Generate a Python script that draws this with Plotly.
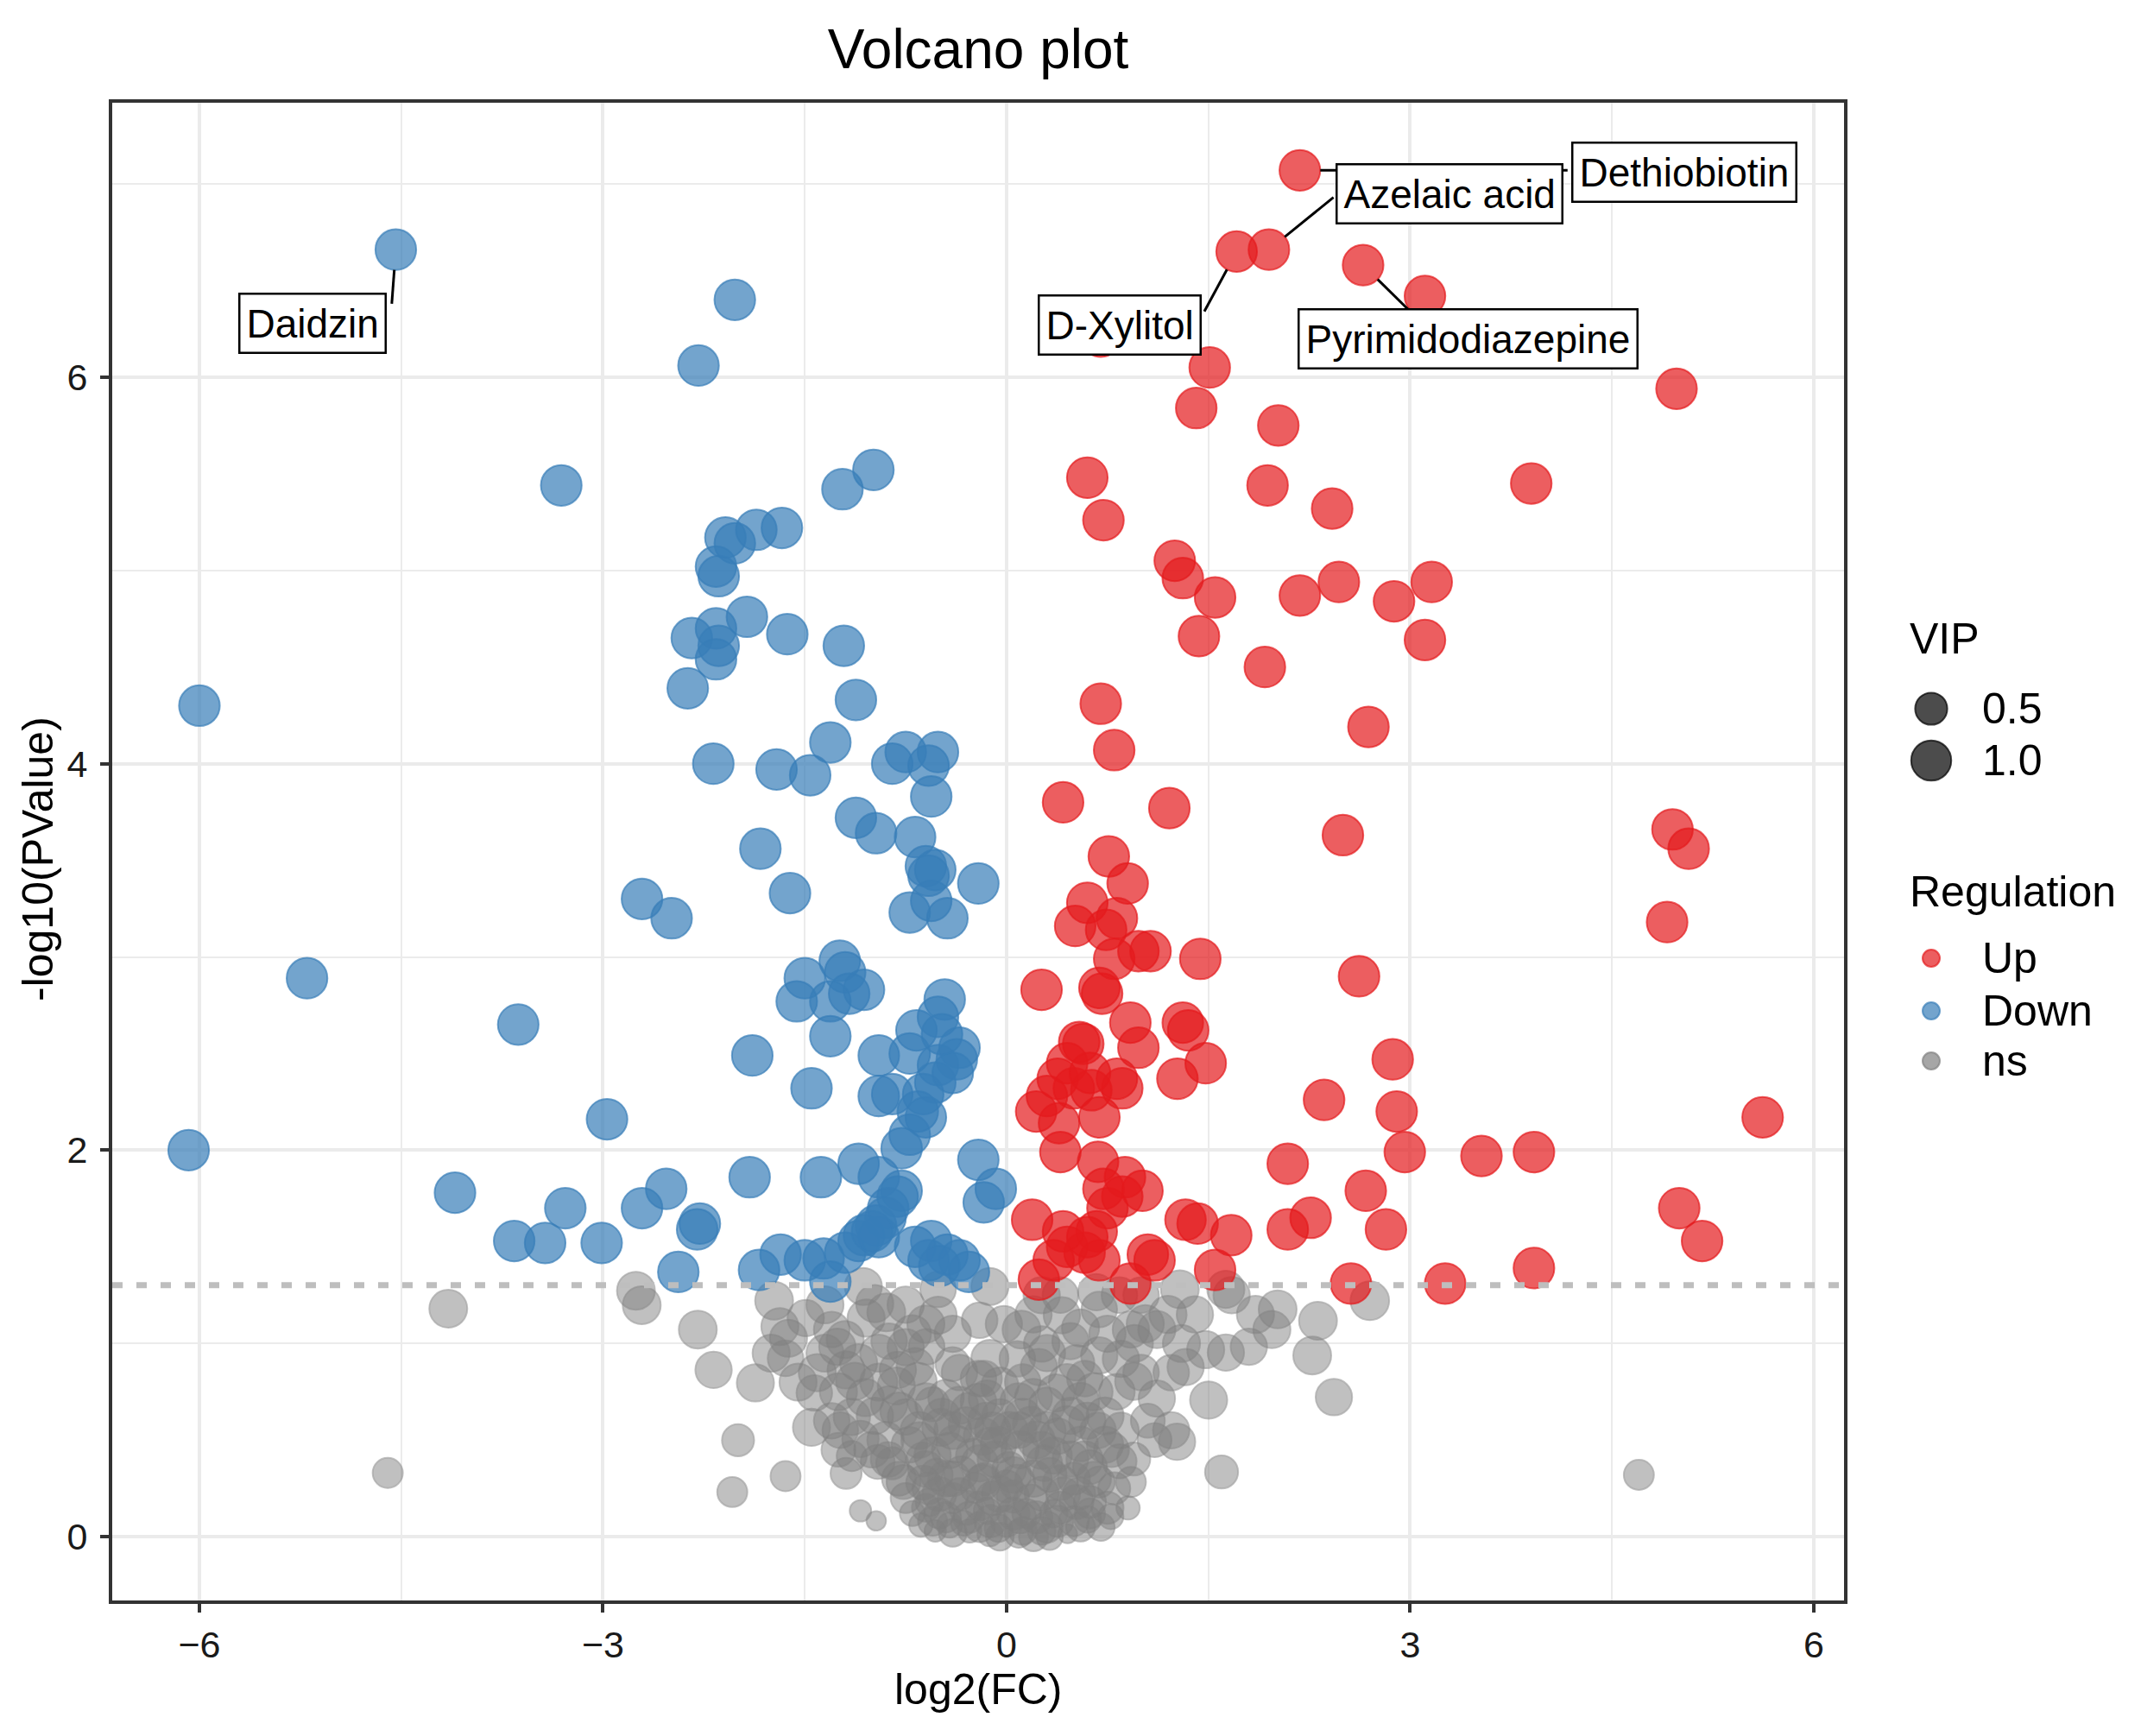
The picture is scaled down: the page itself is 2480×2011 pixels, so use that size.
"""Volcano plot: log2(FC) vs -log10(PValue), size = VIP, colour = regulation"""
import numpy as np
import plotly.graph_objects as go

# colours (ggplot-style palette with alpha 0.7)
COLOR_UP = "rgba(228,26,28,0.7)"
COLOR_DOWN = "rgba(55,126,184,0.7)"
COLOR_NS = "rgba(128,128,128,0.7)"
COLOR_VIP_KEY = "rgba(0,0,0,0.7)"
COLOR_GRID = "#EBEBEB"
COLOR_AXIS = "#333333"
COLOR_CUTOFF = "#BEBEBE"
FONT = "Liberation Sans, Arial, Helvetica, sans-serif"

# page size and plot panel position (pixels); the page body has an 8px margin
W, H = 2480, 2011
OFF = 8
PLOT_L, PLOT_R, PLOT_T, PLOT_B = 130, 2136, 119, 1854
X_RANGE = [-6.648, 6.225]
Y_RANGE = [-0.33, 7.42]

P_CUTOFF = -np.log10(0.05)
VIP_MAX = 1.1
SIG_VIP = 1.05  # all Up/Down metabolites have VIP > 1

# Down-regulated metabolites
down_fc = [
    -4.54, -2.02, -2.29, -3.31, -6.00, -5.20, -3.63, -6.08, -4.10, -3.66,
    -3.43, -3.28, -3.01, -2.97, -2.71, -2.53, -2.28, -2.30, -2.44, -2.71,
    -2.49, -1.22, -0.99, -2.09, -2.02, -1.86, -1.67, -2.16, -2.14, -2.34,
    -2.16, -1.93, -2.14, -2.16, -1.63, -1.21, -2.37, -1.12, -2.18, -1.31,
    -1.71, -1.46, -0.85, -0.75, -0.51, -0.58, -0.56, -1.12, -0.97, -0.68,
    -0.60, -0.53, -0.21, -1.83, -1.61, -0.72, -0.56, -0.44, -0.58, -1.24,
    -1.20, -1.06, -1.17, -1.31, -1.50, -1.56, -1.31, -1.89, -1.45, -0.46,
    -0.51, -0.67, -0.35, -0.37, -0.51, -0.72, -0.95, -0.53, -0.62, -0.85,
    -0.95, -0.60, -0.72, -0.78, -1.10, -0.95, -0.78, -0.81, -0.90, -0.97,
    -1.06, -1.10, -0.95, -1.20, -1.36, -1.50, -1.68, -1.84, -1.31, -0.56,
    -0.44, -0.35, -0.28, -0.58, -0.21, -0.08, -0.17, -1.91, -1.38, -0.48,
    -0.40, -0.66, -0.88, -1.00, -0.68, -0.50,
]
down_logp = [
    6.66, 6.40, 6.06, 5.44, 4.30, 2.89, 2.65, 2.00, 1.78, 1.53,
    1.52, 1.70, 1.52, 2.16, 1.70, 1.80, 1.62, 1.59, 1.37, 3.30,
    3.20, 5.42, 5.52, 5.17, 5.14, 5.21, 5.22, 5.02, 4.97, 4.65,
    4.70, 4.76, 4.61, 4.54, 4.67, 4.61, 4.39, 4.33, 4.00, 4.11,
    3.97, 3.94, 4.00, 4.06, 4.06, 3.99, 3.83, 3.72, 3.64, 3.62,
    3.47, 3.45, 3.38, 3.56, 3.33, 3.23, 3.29, 3.20, 3.42, 2.98,
    2.92, 2.83, 2.81, 2.77, 2.89, 2.77, 2.59, 2.49, 2.32, 2.78,
    2.69, 2.62, 2.53, 2.47, 2.44, 2.50, 2.49, 2.35, 2.29, 2.29,
    2.28, 2.17, 2.08, 2.01, 1.93, 1.86, 1.79, 1.76, 1.65, 1.61,
    1.56, 1.53, 1.55, 1.47, 1.44, 1.43, 1.46, 1.38, 1.32, 1.53,
    1.46, 1.43, 1.37, 1.43, 1.95, 1.80, 1.73, 1.86, 1.86, 2.60,
    2.40, 2.20, 1.70, 1.58, 1.50, 1.40,
]

# Up-regulated metabolites
up_fc = [
    2.18, 1.95, 1.71, 2.65, 3.11, 0.70, 1.51, 1.41, 2.02, 4.98,
    0.60, 0.72, 1.94, 2.42, 3.90, 1.25, 1.31, 1.55, 2.18, 2.47,
    2.88, 3.16, 1.43, 3.11, 1.92, 0.70, 0.80, 2.69, 0.42, 1.21,
    2.50, 0.76, 0.90, 0.60, 0.51, 0.82, 0.74, 0.80, 0.98, 1.07,
    1.44, 2.62, 0.26, 0.69, 0.71, 4.95, 5.07, 4.91, 5.62, 3.53,
    3.92, 5.00, 5.17, 3.92, 3.26, 0.92, 1.31, 1.35, 0.57, 0.54,
    0.98, 1.48, 1.27, 0.38, 0.50, 0.86, 0.82, 0.63, 0.69, 0.22,
    0.39, 0.40, 2.36, 2.87, 2.90, 2.96, 2.09, 0.68, 0.88, 1.01,
    0.86, 0.75, 0.19, 1.33, 1.42, 1.67, 2.67, 2.26, 2.09, 2.82,
    0.67, 0.45, 0.58, 0.69, 0.35, 1.05, 1.10, 1.55, 0.24, 0.92,
    2.56, 0.45, 0.62, 0.30, 0.72, 0.60, 0.42,
]
up_logp = [
    7.07, 6.66, 6.65, 6.58, 6.42, 6.21, 6.05, 5.84, 5.75, 5.94,
    5.48, 5.26, 5.44, 5.32, 5.45, 5.05, 4.96, 4.86, 4.87, 4.94,
    4.84, 4.94, 4.66, 4.64, 4.50, 4.31, 4.07, 4.19, 3.80, 3.77,
    3.63, 3.52, 3.38, 3.28, 3.16, 3.20, 3.14, 2.99, 3.03, 3.03,
    2.99, 2.90, 2.83, 2.84, 2.81, 3.66, 3.56, 3.18, 2.17, 1.97,
    1.99, 1.70, 1.53, 1.39, 1.31, 2.66, 2.66, 2.62, 2.55, 2.56,
    2.53, 2.45, 2.37, 2.37, 2.32, 2.32, 2.37, 2.31, 2.17, 2.20,
    2.14, 1.99, 2.26, 2.47, 2.20, 1.99, 1.93, 1.94, 1.86, 1.79,
    1.76, 1.70, 1.64, 1.64, 1.62, 1.56, 1.79, 1.65, 1.59, 1.59,
    1.58, 1.50, 1.47, 1.43, 1.43, 1.46, 1.43, 1.38, 1.33, 1.31,
    1.31, 2.45, 2.40, 2.28, 1.80, 1.55, 1.58,
]

# not significant metabolites (with VIP)
ns_fc = [
    -2.755, -2.712, -2.295, -2.178, -1.867, -1.996, -2.039, -1.643, -1.086, -0.969,
    -1.728, -1.685, -1.621, -1.643, -1.493, -1.300, -1.258, -1.407, -1.429, -1.193,
    -1.129, -1.065, -1.044, -0.894, -0.873, -0.594, -0.509, -0.509, -0.124, -0.402,
    -0.209, -0.209, -0.808, -0.658, -0.873, -0.979, -1.450, -1.236, -1.086, -0.958,
    -1.193, -1.151, -0.766, -0.723, -0.488, -0.423, -0.338, -0.573, -0.637, -0.530,
    -0.423, -0.231, -0.124, -0.274, -0.124, -0.145, -0.552, -0.980,
    -0.124, 0.111, 0.261, 0.411, 0.667, 0.689, 0.839, 1.288, 1.630, 1.673,
    2.015, 2.315, 2.700, 2.272, 1.972, 1.801, 1.630, 1.480, 1.331, 1.224,
    1.117, 1.031, 0.924, -0.167, -0.146, 0.240, 0.261, 0.475, 0.689, 0.582,
    0.945, 1.117, 1.502, 2.433, 1.224, 1.267, 1.598, 0.090, 0.368, 0.475,
    0.732, 0.090, -0.060, 0.261, 0.475, 0.732, 0.945, 0.924, 0.903, 0.775,
    0.603, 0.454, 0.261, 0.090, -0.060, 0.047, 0.261, 0.539, 0.689, -0.167,
    -0.103,
    -4.15, -4.60, 4.70, 0.08, 0.84, -0.58, -0.32,
    -0.75, -0.62, -0.45, -0.30, -0.35, -0.25, -0.05, 0.02, 0.18, 0.32,
    0.38, 0.55, 0.62, 0.15, 0.35, -0.40, -0.20, 0.00, -0.70, 0.50,
    -0.52, 0.12, -0.02, 0.30, -0.85, 0.82, 1.05, -1.30, -0.75, 0.52,
    -0.95, -0.70, -0.40, -0.20, 0.20, 0.55, 0.75, 1.20,
    -1.35, -1.05, -0.82, -0.60, -0.35, -0.05, 0.20, 0.45, 0.65, 0.85, 1.00,
    -1.25, -0.90, -0.65, -0.40, -0.15, 0.10, 0.30, 0.60, 0.85, 1.10,
    -0.80, -0.60, -0.45, -0.20, 0.05, 0.20, 0.42, 0.62, 0.80,
    -0.75, -0.50, -0.35, -0.10, 0.10, 0.30, 0.50, 0.70, -0.20, 0.00,
    -0.40, 0.20, 0.40, -0.60,
    -1.55, -1.75, -1.35, -0.75, 0.40, 1.40, 1.85, 1.00,
    -0.65, -0.55, -0.48, -0.38, -0.28, -0.18, -0.08, 0.02, 0.12, 0.22,
    0.35, 0.45, 0.58, 0.68, 0.78,
    -0.62, -0.50, -0.40, -0.30, -0.18, -0.05, 0.08, 0.18, 0.28, 0.40,
    0.52, 0.65, 0.75,
    -0.55, -0.45, -0.28, -0.12, 0.05, 0.22, 0.38, 0.55, 0.62, -0.05,
    0.12, 0.32,
    -1.25, -1.10, -0.95, -0.80, -1.15, -0.68, -1.00, -0.88,
    -1.20, -0.60, 0.30, 0.55, 0.95, 1.30,
]
ns_logp = [
    1.273, 1.198, 1.072, 0.863, 0.796, 0.499, 0.231, 0.313, 0.134, 0.082,
    1.221, 1.087, 1.027, 0.923, 1.131, 1.072, 0.983, 0.849, 0.744, 0.863,
    0.804, 1.295, 1.131, 1.161, 1.012, 0.983, 1.146, 1.280, 0.923, 0.893,
    0.818, 0.700, 0.863, 0.804, 0.685, 0.625, 0.566, 0.551, 0.506, 0.387,
    0.328, 0.417, 0.283, 0.476, 0.566, 0.447, 0.328, 0.179, 0.060, 0.030,
    0.060, 0.253, 0.476, 0.030, 0.015, 0.134, 0.685, 1.206,
    1.295, 1.072, 1.250, 1.146, 1.265, 1.176, 1.250, 1.280, 1.280, 1.250,
    1.176, 1.117, 1.221, 0.938, 1.072, 0.983, 0.953, 0.968, 0.878, 0.849,
    1.072, 1.102, 1.072, 0.818, 0.715, 0.878, 0.997, 1.012, 0.938, 0.818,
    0.804, 0.715, 0.707, 0.722, 0.551, 0.491, 0.335, 0.700, 0.744, 0.625,
    0.625, 0.551, 0.476, 0.447, 0.402, 0.476, 0.402, 0.283, 0.149, 0.104,
    0.089, 0.015, 0.030, 0.015, 0.045, 0.208, 0.223, 0.223, 0.283, 0.298,
    0.551,
    1.18, 0.33, 0.32, 0.92, 0.39, 0.25, 0.07,
    0.62, 0.40, 0.72, 0.58, 0.85, 0.42, 0.62, 0.35, 0.58, 0.32,
    0.52, 0.48, 0.36, 0.12, 0.12, 0.20, 0.16, 0.26, 0.12, 0.30,
    0.32, 0.80, 1.10, 0.68, 0.38, 0.75, 0.60, 0.60, 0.98, 0.90,
    0.95, 1.05, 1.05, 1.12, 1.15, 1.08, 1.05, 1.15,
    0.95, 0.72, 0.78, 0.70, 0.68, 0.78, 0.72, 0.80, 0.75, 0.92, 0.85,
    0.45, 0.50, 0.55, 0.55, 0.60, 0.45, 0.55, 0.60, 0.55, 0.50,
    0.30, 0.35, 0.30, 0.38, 0.32, 0.30, 0.22, 0.18, 0.25,
    0.20, 0.12, 0.22, 0.20, 0.10, 0.05, 0.08, 0.05, 0.05, 0.08,
    0.02, 0.00, 0.15, 0.15,
    0.80, 0.95, 1.20, 1.20, 1.25, 1.15, 1.15, 1.25,
    0.50, 0.42, 0.62, 0.48, 0.65, 0.52, 0.40, 0.55, 0.62, 0.50,
    0.42, 0.58, 0.40, 0.55, 0.45,
    0.28, 0.22, 0.30, 0.15, 0.28, 0.22, 0.28, 0.18, 0.38, 0.28,
    0.18, 0.30, 0.15,
    0.08, 0.10, 0.10, 0.08, 0.12, 0.10, 0.08, 0.05, 0.12, 0.00,
    0.03, 0.00,
    0.75, 0.90, 0.80, 0.65, 0.62, 0.88, 0.45, 0.40,
    1.02, 1.10, 0.95, 0.70, 1.00, 1.00,
]
ns_vip = [
    0.85, 0.85, 0.85, 0.75, 0.80, 0.50, 0.40, 0.40, 0.10, 0.06,
    0.85, 0.80, 0.80, 0.70, 0.75, 0.70, 0.75, 0.80, 0.70, 0.80,
    0.80, 0.80, 0.80, 0.85, 0.70, 0.70, 0.80, 0.70, 0.80, 0.60,
    0.70, 0.70, 0.75, 0.80, 0.75, 0.75, 0.80, 0.70, 0.75, 0.60,
    0.45, 0.40, 0.60, 0.70, 0.80, 0.70, 0.60, 0.30, 0.15, 0.10,
    0.20, 0.40, 0.60, 0.15, 0.20, 0.25, 0.60, 0.80,
    0.80, 0.85, 0.75, 0.75, 0.75, 0.70, 0.70, 0.85, 0.80, 0.75,
    0.85, 0.85, 0.90, 0.85, 0.80, 0.75, 0.75, 0.80, 0.75, 0.70,
    0.80, 0.80, 0.75, 0.70, 0.75, 0.75, 0.70, 0.75, 0.75, 0.70,
    0.80, 0.75, 0.80, 0.75, 0.75, 0.75, 0.55, 0.75, 0.80, 0.75,
    0.80, 0.70, 0.70, 0.80, 0.70, 0.75, 0.55, 0.40, 0.15, 0.20,
    0.25, 0.05, 0.30, 0.30, 0.30, 0.50, 0.60, 0.50, 0.45, 0.50,
    0.70,
    0.85, 0.40, 0.40, 0.70, 0.60, 0.50, 0.20,
    0.70, 0.60, 0.70, 0.65, 0.70, 0.60, 0.70, 0.60, 0.70, 0.60,
    0.70, 0.65, 0.60, 0.35, 0.30, 0.40, 0.35, 0.50, 0.20, 0.50,
    0.50, 0.70, 0.75, 0.70, 0.50, 0.70, 0.60, 0.70, 0.75, 0.70,
    0.80, 0.80, 0.75, 0.70, 0.75, 0.80, 0.75, 0.80,
    0.80, 0.80, 0.80, 0.75, 0.80, 0.80, 0.80, 0.75, 0.80, 0.75, 0.70,
    0.60, 0.75, 0.80, 0.80, 0.75, 0.80, 0.80, 0.75, 0.70, 0.60,
    0.60, 0.70, 0.70, 0.75, 0.70, 0.75, 0.60, 0.50, 0.50,
    0.40, 0.40, 0.50, 0.60, 0.50, 0.45, 0.40, 0.30, 0.40, 0.45,
    0.30, 0.35, 0.50, 0.30,
    0.80, 0.80, 0.80, 0.75, 0.70, 0.75, 0.80, 0.70,
    0.70, 0.75, 0.75, 0.80, 0.75, 0.80, 0.75, 0.80, 0.75, 0.80,
    0.75, 0.80, 0.75, 0.70, 0.65,
    0.60, 0.60, 0.65, 0.60, 0.70, 0.70, 0.70, 0.65, 0.70, 0.65,
    0.60, 0.60, 0.50,
    0.35, 0.40, 0.45, 0.50, 0.50, 0.50, 0.45, 0.35, 0.40, 0.30,
    0.30, 0.25,
    0.80, 0.80, 0.80, 0.80, 0.75, 0.80, 0.70, 0.65,
    0.80, 0.80, 0.75, 0.80, 0.80, 0.80,
]

# labelled metabolites: point, and where its label box sits / segment meets the box
label_names = ["Daidzin", "D-Xylitol", "Dethiobiotin", "Azelaic acid", "Pyrimidodiazepine"]
label_fc = [-4.54, 1.71, 2.18, 1.95, 2.65]
label_logp = [6.66, 6.65, 7.07, 6.66, 6.58]
label_box_x = [-5.16, 0.84, 5.04, 3.29, 3.43]
label_box_y = [6.28, 6.27, 7.06, 6.95, 6.20]
label_seg_x = [-4.57, 1.47, 4.17, 2.43, 3.03]
label_seg_y = [6.38, 6.34, 7.07, 6.93, 6.32]


def vip_to_px(v):
    return 15 + 33 * np.sqrt(np.asarray(v, dtype=float) / VIP_MAX)


def paper_x(px):
    return (px - PLOT_L) / (PLOT_R - PLOT_L)


def paper_y(py):
    return (PLOT_B - py) / (PLOT_B - PLOT_T)


X_SCALE = (PLOT_R - PLOT_L) / (X_RANGE[1] - X_RANGE[0])
Y_SCALE = (PLOT_B - PLOT_T) / (Y_RANGE[1] - Y_RANGE[0])
SIG_SIZE = float(vip_to_px(SIG_VIP))

fig = go.Figure()

for name, xs, ys, color, size in [
    ("ns", ns_fc, ns_logp, COLOR_NS, vip_to_px(ns_vip)),
    ("Down", down_fc, down_logp, COLOR_DOWN, SIG_SIZE),
    ("Up", up_fc, up_logp, COLOR_UP, SIG_SIZE),
]:
    fig.add_trace(
        go.Scatter(
            x=xs,
            y=ys,
            mode="markers",
            name=name,
            marker=dict(size=size, color=color, line=dict(color=color, width=2)),
            hovertemplate="log2FC: %{x}<br>-log10P: %{y}<extra>" + name + "</extra>",
            showlegend=False,
        )
    )

# p = 0.05 cut-off
fig.add_shape(
    type="line", xref="paper", x0=0, x1=1, yref="y", y0=P_CUTOFF, y1=P_CUTOFF,
    line=dict(color=COLOR_CUTOFF, width=7, dash="12px,16px"), layer="above",
)

# repel-style labels: segment from the point's edge to the box, then the box
for name, px_, py_, bx, by, sx, sy in zip(
    label_names, label_fc, label_logp, label_box_x, label_box_y, label_seg_x, label_seg_y
):
    dxp, dyp = (sx - px_) * X_SCALE, (sy - py_) * Y_SCALE
    frac = (SIG_SIZE / 2) / np.hypot(dxp, dyp)
    fig.add_shape(
        type="line", xref="x", yref="y",
        x0=px_ + (sx - px_) * frac, y0=py_ + (sy - py_) * frac, x1=sx, y1=sy,
        line=dict(color="black", width=3), layer="above",
    )
    fig.add_annotation(
        x=bx, y=by, xref="x", yref="y", text=name, showarrow=False,
        xanchor="center", yanchor="middle",
        bgcolor="white", bordercolor="black", borderwidth=2.5, borderpad=7,
        font=dict(family=FONT, size=46, color="black"),
    )

# axis titles
fig.add_annotation(
    text="log2(FC)", xref="paper", yref="paper", x=0.5, y=paper_y(1957),
    xanchor="center", yanchor="middle",
    showarrow=False, font=dict(family=FONT, size=50, color="black"),
)
fig.add_annotation(
    text="-log10(PValue)", xref="paper", yref="paper", x=paper_x(44), y=paper_y(995),
    xanchor="center", yanchor="middle",
    showarrow=False, textangle=-90, font=dict(family=FONT, size=50, color="black"),
)

# legend: VIP
leg_x = paper_x(2237)
fig.add_annotation(
    text="VIP", xref="paper", yref="paper", x=paper_x(2210), y=paper_y(740),
    xanchor="left", yanchor="middle", showarrow=False,
    font=dict(family=FONT, size=50, color="black"),
)
for v, py in [(0.5, 821), (1.0, 881)]:
    r = float(vip_to_px(v)) / 2
    fig.add_shape(
        type="circle", xref="paper", yref="paper", xsizemode="pixel", ysizemode="pixel",
        xanchor=leg_x, yanchor=paper_y(py), x0=-r, x1=r, y0=-r, y1=r,
        fillcolor=COLOR_VIP_KEY, line=dict(color=COLOR_VIP_KEY, width=2),
    )
    fig.add_annotation(
        text=f"{v:.1f}", xref="paper", yref="paper", x=paper_x(2294), y=paper_y(py),
        xanchor="left", yanchor="middle", showarrow=False,
        font=dict(family=FONT, size=50, color="black"),
    )

# legend: Regulation
fig.add_annotation(
    text="Regulation", xref="paper", yref="paper", x=paper_x(2210), y=paper_y(1033),
    xanchor="left", yanchor="middle", showarrow=False,
    font=dict(family=FONT, size=50, color="black"),
)
for lab, color, py in [("Up", COLOR_UP, 1110), ("Down", COLOR_DOWN, 1171), ("ns", COLOR_NS, 1229)]:
    fig.add_shape(
        type="circle", xref="paper", yref="paper", xsizemode="pixel", ysizemode="pixel",
        xanchor=leg_x, yanchor=paper_y(py), x0=-10, x1=10, y0=-10, y1=10,
        fillcolor=color, line=dict(color=color, width=2),
    )
    fig.add_annotation(
        text=lab, xref="paper", yref="paper", x=paper_x(2294), y=paper_y(py),
        xanchor="left", yanchor="middle", showarrow=False,
        font=dict(family=FONT, size=50, color="black"),
    )

axis_common = dict(
    showgrid=True, gridcolor=COLOR_GRID, gridwidth=4, zeroline=False,
    showline=True, linecolor=COLOR_AXIS, linewidth=4, mirror=True,
    ticks="outside", ticklen=10, tickwidth=4, tickcolor=COLOR_AXIS,
    tickfont=dict(family=FONT, size=43, color="#1a1a1a"),
)
fig.update_xaxes(
    range=X_RANGE, tickmode="array", tickvals=[-6, -3, 0, 3, 6],
    minor=dict(tickvals=[-4.5, -1.5, 1.5, 4.5], showgrid=True, gridcolor=COLOR_GRID, gridwidth=2),
    **axis_common,
)
fig.update_yaxes(
    range=Y_RANGE, tickmode="array", tickvals=[0, 2, 4, 6], ticklabelstandoff=6,
    minor=dict(tickvals=[1, 3, 5, 7], showgrid=True, gridcolor=COLOR_GRID, gridwidth=2),
    **axis_common,
)

fig_w, fig_h = W - 2 * OFF, H - 2 * OFF
fig.update_layout(
    width=fig_w,
    height=fig_h,
    margin=dict(l=PLOT_L - OFF, r=fig_w - (PLOT_R - OFF), t=PLOT_T - OFF, b=fig_h - (PLOT_B - OFF)),
    title=dict(
        text="Volcano plot", x=0.5, xref="paper",
        y=1 - (57 - OFF) / fig_h, yref="container", xanchor="center", yanchor="middle",
        font=dict(family=FONT, size=64, color="black"),
    ),
    plot_bgcolor="white",
    paper_bgcolor="white",
    font=dict(family=FONT, color="black"),
    showlegend=False,
)

fig.write_html("out.html")
